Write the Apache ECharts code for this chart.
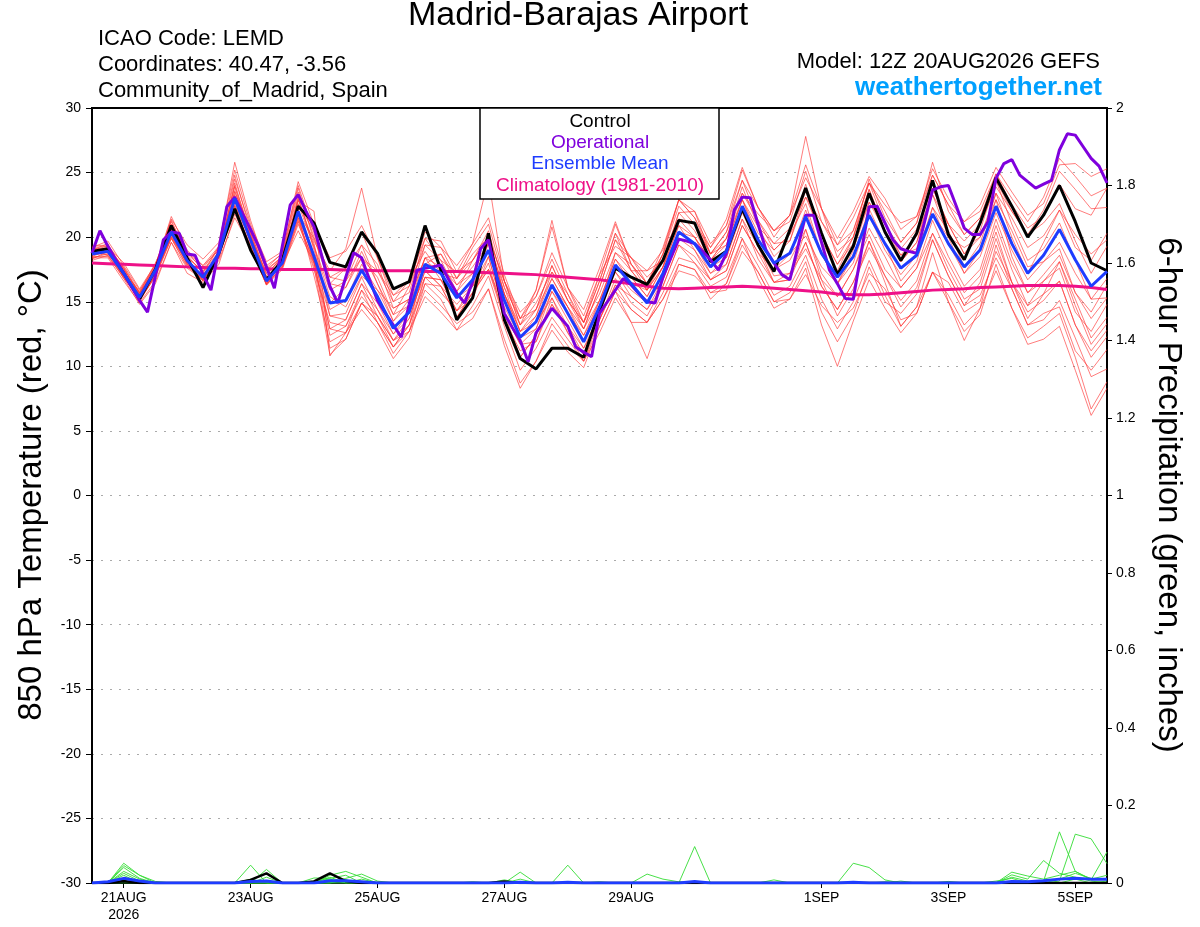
<!DOCTYPE html>
<html>
<head>
<meta charset="utf-8">
<script src="https://cdn.jsdelivr.net/npm/echarts@6/dist/echarts.min.js"></script>
<style>
html,body{margin:0;padding:0;background:#fff;}
#chart{width:1200px;height:927px;}
</style>
</head>
<body>
<div id="chart"></div>
<script>
// ---------- axes / ticks ----------
const tickHours = [12, 60, 108, 156, 204, 276, 324, 372];
const tickLabels = ['21AUG\n2026', '23AUG', '25AUG', '27AUG', '29AUG', '1SEP', '3SEP', '5SEP'];

// ---------- 850 hPa temperature (6-hourly, from 20AUG 12Z) ----------
const control = [18.9,19.1,17.2,15.2,17.5,20.9,18.4,16.1,18.8,22.2,19.0,16.7,18.2,22.4,21.1,18.05,17.7,20.4,18.75,16.0,16.55,20.9,17.45,13.6,15.3,20.3,13.6,10.6,9.8,11.4,11.4,10.7,14.3,17.6,16.9,16.35,18.2,21.3,21.1,18.1,18.9,22.2,19.4,17.35,20.55,23.8,20.3,17.1,19.3,23.4,20.4,18.2,20.3,24.4,20.2,18.25,21.1,24.6,22.4,20.0,21.7,24.0,21.2,18.0,17.4];
const ensMean = [18.7,18.9,17.2,15.35,17.45,20.4,18.2,16.9,18.75,23.0,19.8,16.6,18.0,22.0,18.5,14.9,15.1,17.45,15.4,12.95,14.2,17.9,17.2,15.3,16.7,19.0,15.1,12.25,13.45,16.3,14.1,11.9,14.6,17.85,16.4,14.9,17.2,20.4,19.5,17.7,18.9,22.4,19.8,18.0,18.75,21.6,18.75,16.9,18.5,21.7,19.5,17.6,18.6,21.8,19.5,17.7,19.0,22.4,19.5,17.2,18.6,20.6,18.25,16.2,17.35];
const climatology = [18.0,17.95,17.9,17.85,17.8,17.75,17.7,17.65,17.6,17.6,17.55,17.55,17.5,17.5,17.5,17.5,17.45,17.45,17.4,17.4,17.4,17.35,17.35,17.35,17.3,17.25,17.2,17.15,17.1,17.0,16.9,16.8,16.7,16.55,16.4,16.2,16.05,16.0,16.05,16.1,16.15,16.2,16.15,16.05,15.95,15.85,15.75,15.6,15.55,15.55,15.6,15.7,15.8,15.9,15.95,16.0,16.1,16.15,16.2,16.25,16.25,16.25,16.2,16.1,15.95];
// operational run, 3-hourly
const operational = [18.75,20.5,19.3,18.25,17.2,16.15,15.1,14.2,17.0,19.8,20.4,20.3,18.7,18.6,17.1,15.9,19.1,22.35,23.1,21.8,20.6,19.3,17.7,16.05,19.3,22.5,23.3,22.0,20.8,18.5,16.2,14.9,16.9,18.8,18.4,16.7,15.1,14.1,13.2,12.25,14.8,17.45,17.6,17.7,17.85,16.7,15.65,14.9,16.55,19.1,19.8,17.0,14.1,13.0,12.0,10.35,12.6,13.5,14.5,13.8,13.1,11.5,11.1,10.75,14.1,15.0,15.9,16.8,16.3,15.6,15.0,14.9,16.9,18.4,19.85,19.7,19.5,18.9,18.25,17.45,18.75,22.1,23.1,23.05,21.0,19.0,18.0,17.1,16.7,19.2,21.7,21.7,19.6,17.45,16.4,15.25,15.2,18.8,22.35,22.4,21.1,19.8,19.1,18.9,18.75,21.2,23.65,23.9,24.0,22.4,20.7,20.2,20.2,21.2,24.55,25.7,26.0,24.8,24.3,23.8,24.1,24.4,26.75,28.0,27.9,27.0,26.1,25.5,24.2];

// ensemble members (6-hourly)
const m01 = [19.2,19.7,17.8,15.9,17.7,21.6,19.0,17.8,19.3,25.8,21.3,17.6,18.8,24.3,21.0,18.4,18.9,20.9,18.4,15.5,16.2,20.4,19.2,17.8,19.5,21.5,17.1,13.7,15.4,18.3,15.6,13.4,16.6,20.3,18.4,17.4,19.0,22.9,22.0,19.5,20.9,25.2,22.3,20.5,21.7,25.6,22.2,19.9,22.0,24.7,23.0,20.6,21.6,25.3,23.0,21.2,22.5,25.4,23.5,21.7,22.6,25.6,25.7,24.7,25.3];
const m02 = [18.4,18.4,16.6,14.9,16.6,19.6,17.6,16.7,18.2,21.5,19.3,16.3,17.8,20.5,18.0,12.4,13.1,15.4,13.9,11.5,13.2,16.4,15.2,12.8,14.7,17.0,13.1,9.7,11.4,13.8,12.1,10.4,13.1,15.8,14.4,13.4,15.7,18.4,18.0,16.2,16.9,19.9,17.8,15.5,16.2,18.6,15.2,12.9,15.0,18.2,15.5,13.1,14.6,17.3,15.5,13.2,14.5,17.4,14.5,12.2,13.1,14.1,10.7,6.7,8.8];
const m03 = [18.9,19.2,17.4,15.2,17.6,21.0,18.5,17.3,18.9,24.0,20.3,17.2,18.3,23.0,19.3,15.9,16.6,19.4,16.4,13.5,15.2,18.4,16.7,14.3,16.2,19.5,15.6,13.2,14.4,17.8,15.1,13.4,16.6,20.3,17.4,15.9,17.7,21.9,20.5,18.2,19.9,23.9,20.8,18.5,19.7,23.6,19.7,17.4,20.0,23.7,20.5,18.1,19.6,23.3,20.0,17.2,19.0,22.9,18.5,15.7,16.6,18.1,15.2,12.2,13.8];
const m04 = [18.2,18.6,16.8,14.8,16.4,19.6,17.2,16.5,17.9,21.8,19.2,16.3,17.5,21.0,18.2,11.4,12.1,14.9,13.4,11.5,12.7,16.9,15.7,14.3,15.2,18.5,14.1,10.7,12.4,15.8,14.1,12.4,14.6,18.8,17.9,16.4,18.7,22.4,21.0,19.2,20.9,24.4,22.3,20.5,21.7,24.6,22.2,19.4,20.5,24.2,22.0,19.6,21.1,24.8,22.5,20.2,21.5,24.4,22.0,20.2,22.1,25.1,23.7,22.2,22.3];
const m05 = [18.7,18.7,17.2,15.7,17.4,20.0,18.0,16.9,18.9,22.2,19.4,16.4,18.0,21.5,17.7,10.9,12.1,14.9,13.4,11.0,12.7,15.4,14.2,12.8,13.7,16.0,12.1,8.7,10.4,12.8,11.1,9.9,13.1,15.8,13.4,10.6,14.2,17.9,17.5,15.2,16.4,19.9,16.8,14.5,15.2,17.6,13.2,10.0,13.5,16.7,14.5,12.6,14.1,17.3,15.0,12.7,14.0,17.9,14.5,11.7,12.1,13.1,9.7,6.2,8.3];
const m06 = [19.1,19.1,17.7,15.7,17.9,21.2,18.7,17.6,19.2,24.5,20.8,17.4,18.5,23.5,20.0,16.9,17.6,20.4,17.4,15.0,15.7,19.9,18.2,15.8,18.2,20.5,16.1,12.7,14.4,17.8,15.1,12.9,16.1,19.8,18.4,16.4,19.2,22.9,21.5,19.2,21.4,25.4,22.3,20.0,21.7,27.8,22.2,18.4,20.5,24.2,21.0,19.1,20.6,23.8,21.0,19.7,21.0,23.9,22.0,20.2,21.1,22.6,19.7,17.2,19.3];
const m07 = [18.5,18.5,16.9,15.2,16.9,19.9,17.7,16.8,18.4,22.2,19.0,16.4,17.6,21.2,17.5,13.4,13.1,15.9,14.4,12.0,13.7,17.4,16.2,13.8,15.7,18.0,13.6,11.2,11.9,15.3,13.1,11.4,13.6,16.3,15.4,14.4,16.2,19.4,18.0,16.7,17.4,20.9,18.8,16.5,16.7,19.6,16.2,14.4,16.5,19.7,17.0,14.6,16.1,19.8,17.0,14.7,16.5,20.4,16.5,13.7,15.6,18.1,14.7,11.7,13.3];
const m08 = [19.3,19.4,17.6,15.5,17.7,21.3,18.6,17.2,19.3,24.8,20.4,17.0,18.6,23.8,19.7,17.4,19.1,23.8,18.4,15.0,16.7,19.9,19.7,17.3,19.5,24.5,16.6,13.2,15.9,20.8,16.1,14.4,17.6,21.2,17.9,16.4,18.7,22.9,21.5,18.7,20.4,24.4,21.3,19.0,20.2,24.1,20.2,17.9,20.0,23.7,20.5,18.1,19.6,23.8,21.0,18.7,20.5,24.4,21.0,18.2,19.1,21.1,18.2,15.2,15.3];
const m09 = [18.3,18.9,17.0,15.1,17.1,20.2,17.9,17.1,18.4,22.5,20.1,16.8,17.7,21.5,18.5,12.9,12.6,14.9,13.9,12.0,12.7,15.9,14.7,13.3,14.2,16.0,11.6,8.3,10.4,13.3,11.6,10.4,13.6,16.3,14.4,13.4,15.2,17.9,17.5,15.7,16.4,19.4,17.3,15.0,15.2,17.1,14.7,13.4,14.5,17.2,16.0,13.6,14.1,17.3,16.5,14.2,15.0,18.9,16.5,14.7,15.6,16.6,13.2,10.7,12.3];
const m10 = [19.0,19.5,17.3,15.8,18.0,20.7,18.4,17.4,19.1,23.5,20.6,17.8,18.7,22.5,20.5,16.9,16.6,18.4,16.9,14.0,16.2,19.4,19.2,16.8,18.7,20.0,16.6,14.2,15.4,18.8,16.1,13.9,17.1,19.3,18.4,16.9,18.2,21.4,21.0,18.7,19.4,22.9,20.8,19.5,20.7,23.1,21.2,19.4,21.5,24.2,22.5,21.1,21.6,24.8,22.5,21.2,22.0,24.9,23.0,21.2,23.1,26.1,24.7,23.2,23.8];
const m11 = [18.8,18.8,17.1,15.4,17.0,20.1,18.1,16.6,18.6,22.7,19.6,16.7,18.2,21.8,18.2,13.9,13.6,16.4,14.9,12.5,14.2,16.9,16.7,15.3,16.2,17.5,14.6,12.2,12.9,16.3,14.6,11.9,15.1,17.3,15.9,14.9,16.7,19.9,19.5,17.2,17.9,21.4,19.3,17.0,17.2,19.1,16.7,15.4,17.5,20.2,17.5,16.1,17.6,20.3,18.0,15.7,17.0,20.9,17.5,14.7,16.6,17.6,14.2,12.7,14.8];
const m12 = [18.6,19.2,17.6,15.6,17.8,20.5,18.8,17.8,19.0,23.2,20.0,17.2,18.4,22.8,22.0,10.8,12.6,15.9,13.4,11.5,13.2,17.9,17.7,16.3,17.2,19.0,15.6,12.7,13.4,15.3,12.6,10.9,14.1,17.8,16.9,15.4,17.7,20.4,20.0,18.2,19.9,22.9,20.3,19.0,20.2,22.6,18.7,16.4,19.0,22.7,21.0,18.6,19.1,21.8,20.0,19.2,20.0,22.9,20.5,17.7,18.1,19.1,15.7,14.2,16.3];
const m13 = [19.0,19.0,16.9,15.3,17.5,20.9,18.0,17.1,18.7,24.2,20.1,16.4,17.9,23.2,19.0,14.4,15.1,17.9,15.9,14.5,15.2,19.4,18.2,17.3,18.2,20.0,15.6,12.2,13.9,17.3,15.6,12.9,15.1,18.3,16.4,15.9,18.7,21.4,20.0,17.7,18.4,22.4,19.3,16.5,16.7,20.6,16.7,13.9,16.0,19.7,16.5,13.1,14.6,18.8,15.0,12.0,14.5,19.4,16.0,13.2,14.1,14.6,11.2,9.7,11.3];
const m14 = [18.4,18.7,17.2,15.5,17.2,20.6,18.2,16.7,18.8,23.3,19.5,16.6,18.1,22.2,18.0,14.9,16.1,18.4,17.4,15.5,16.7,18.9,17.2,16.8,19.2,21.0,16.6,13.7,15.9,21.3,16.1,13.4,17.1,21.0,17.9,15.9,17.7,20.9,19.0,16.7,17.4,20.9,18.8,17.5,18.7,20.1,17.7,16.4,18.5,22.2,19.5,16.6,18.1,22.3,20.5,17.7,19.5,23.4,20.0,17.2,19.6,22.1,19.2,18.2,20.3];
const m15 = [18.7,19.1,17.1,15.0,17.1,19.9,17.8,16.6,18.6,22.4,19.8,16.5,18.2,21.7,17.0,11.9,12.6,14.4,12.9,10.6,12.2,16.4,16.2,13.8,15.7,17.5,14.1,11.7,11.9,14.8,12.6,10.4,12.6,15.3,13.4,13.4,15.2,17.4,17.0,15.7,15.9,18.9,17.3,15.0,15.7,18.1,14.2,11.9,14.0,17.7,15.0,14.1,15.6,19.8,17.0,14.7,15.5,18.4,16.0,13.2,13.6,15.1,12.2,9.2,9.8];
const m16 = [19.2,19.3,18.0,16.0,17.9,21.4,19.4,18.3,19.6,25.2,21.0,18.1,18.9,24.0,20.3,16.4,17.6,19.4,17.9,14.5,15.2,18.4,18.7,16.3,17.7,19.5,16.1,13.7,14.4,16.8,14.6,12.9,16.1,19.8,17.4,17.4,18.2,21.9,22.0,18.7,20.4,23.4,21.8,20.5,21.2,25.1,21.2,18.9,20.0,24.5,21.5,19.6,21.1,25.8,22.0,20.2,21.5,24.9,22.5,20.7,21.6,24.1,22.2,21.7,23.8];
const m17 = [18.9,18.6,17.0,15.6,17.3,20.3,18.3,16.8,18.5,23.6,20.2,16.9,18.1,22.6,19.2,15.4,14.6,17.0,15.9,13.5,14.7,18.4,17.7,15.8,17.2,19.5,15.6,12.7,13.9,16.8,14.6,12.4,15.1,18.3,16.9,15.4,17.7,20.9,20.0,18.2,19.4,22.9,19.8,18.0,18.7,22.1,18.7,16.4,18.0,21.7,19.0,17.1,18.6,22.3,19.5,17.2,18.5,21.9,19.0,16.7,18.1,19.6,17.2,15.2,16.8];
const m18 = [18.5,19.0,17.5,15.1,17.0,20.6,17.9,16.7,18.9,23.9,19.9,16.8,17.9,22.9,19.5,13.9,14.1,16.9,14.4,12.5,13.7,17.4,16.2,14.8,16.2,18.5,14.1,11.7,12.9,15.8,13.6,11.4,14.1,17.3,15.4,14.4,16.7,19.9,19.0,17.2,18.4,21.9,19.3,17.5,18.2,20.6,17.2,15.4,17.5,20.7,18.5,16.1,17.6,21.3,18.5,16.2,17.5,21.4,18.0,15.7,17.1,18.6,15.7,13.7,15.3];
const m19 = [19.0,19.3,17.5,15.7,17.6,21.0,18.9,17.4,18.4,22.8,20.5,17.5,18.5,21.8,19.9,16.4,16.1,18.9,16.4,14.0,14.7,17.9,18.7,16.8,18.2,20.0,16.6,13.2,14.9,17.3,15.1,13.4,15.6,18.8,17.4,15.9,18.2,21.4,21.0,18.7,19.9,23.4,21.3,19.5,19.7,23.1,20.2,17.9,19.5,22.7,20.5,18.6,20.1,23.3,21.0,18.7,20.0,23.4,21.5,19.2,20.1,22.1,20.2,18.7,19.8];
const m20 = [18.6,18.9,16.8,15.3,17.2,20.0,18.0,17.0,18.6,22.4,19.2,16.3,17.7,21.3,18.0,12.9,13.6,16.4,13.9,12.0,13.2,16.9,16.7,14.3,15.7,17.5,13.6,10.7,12.4,14.8,13.1,10.9,13.6,16.8,14.9,13.9,16.2,19.4,18.5,16.7,17.9,21.4,18.3,16.5,17.2,19.6,16.2,14.4,16.5,19.2,17.0,15.1,16.6,20.3,17.5,15.2,16.0,19.9,16.5,14.2,15.1,16.6,13.2,11.2,12.8];
const members = [m01,m02,m03,m04,m05,m06,m07,m08,m09,m10,m11,m12,m13,m14,m15,m16,m17,m18,m19,m20];

// ---------- 6-hour precipitation (inches) ----------
const pControl = [0,0,0.005,0,0,0,0,0,0,0,0.008,0.025,0,0,0.004,0.025,0.005,0,0,0,0,0,0,0,0,0,0.004,0,0,0,0,0,0,0,0,0,0,0,0,0,0,0,0,0,0,0,0,0,0,0,0,0,0,0,0,0,0,0,0,0,0,0,0,0,0];
const pMean = [0,0.003,0.012,0.005,0,0,0,0,0,0,0.004,0.005,0,0,0,0.006,0.006,0.003,0,0,0,0,0,0,0,0,0,0.002,0,0,0.002,0,0,0,0,0,0,0,0.004,0,0,0,0,0,0,0,0,0,0.002,0,0,0,0,0,0,0,0,0,0.004,0.003,0.006,0.01,0.012,0.01,0.01];
const g1 = [0,0,0.051,0.02,0.004,0,0,0,0,0,0.046,0,0,0,0,0,0,0,0,0,0,0,0,0,0,0,0,0,0,0,0.046,0,0,0,0,0,0,0,0,0,0,0,0,0,0,0,0,0,0,0,0,0,0,0,0,0,0,0,0,0,0.005,0.132,0.03,0.01,0.02];
const g2 = [0,0,0.04,0.012,0,0,0,0,0,0,0,0.035,0,0,0,0,0.012,0.023,0.005,0,0,0,0,0,0,0,0,0,0,0,0,0,0,0,0,0,0,0,0,0,0,0,0,0,0,0,0,0,0.051,0.04,0.008,0,0,0,0,0,0,0,0,0,0,0.005,0.126,0.114,0.05];
const g3 = [0,0,0.03,0.01,0,0,0,0,0,0,0,0,0,0,0,0.02,0.03,0.015,0,0,0,0,0,0,0,0,0,0.028,0,0,0,0,0,0,0,0.023,0.01,0.003,0,0,0,0,0,0,0,0,0,0,0,0,0,0,0,0,0,0,0,0,0.028,0.018,0.01,0.02,0.03,0.008,0.08];
const g4 = [0,0,0.02,0,0,0,0,0,0,0,0,0,0,0,0.013,0.012,0.02,0,0,0,0,0,0,0,0,0,0.008,0,0,0,0,0,0,0,0,0,0,0,0.094,0,0,0,0,0.008,0,0,0,0,0,0,0,0,0,0,0,0,0,0,0.021,0.01,0.058,0.025,0.015,0.005,0];
const g5 = [0,0,0.012,0,0,0,0,0,0,0,0.01,0,0,0,0.005,0.01,0,0,0,0,0,0,0,0,0,0,0,0,0,0,0,0,0,0,0,0,0,0,0,0,0,0,0,0,0,0,0,0,0,0,0,0.005,0,0,0.004,0,0,0,0.015,0.005,0,0.01,0.025,0.012,0.01];
const g6 = [0,0,0.045,0.02,0,0,0,0,0,0,0,0,0,0,0,0,0.008,0,0,0,0,0,0,0,0,0,0,0.01,0,0,0,0,0,0,0,0,0,0,0,0,0,0,0,0,0,0,0,0,0,0,0,0,0,0,0,0,0,0.005,0.012,0,0,0,0,0,0];
const g7 = [0,0,0,0,0,0,0,0,0,0,0,0.015,0,0,0,0,0,0.01,0,0,0,0,0,0,0,0,0,0,0,0,0,0,0.003,0,0,0,0,0,0,0,0,0,0,0,0,0,0,0,0,0,0,0,0,0,0,0,0,0,0,0,0,0,0.01,0,0.005];
const g8 = [0,0,0.025,0.005,0,0,0,0,0,0,0,0,0,0,0,0.015,0,0,0,0,0,0,0,0,0.003,0,0,0,0,0,0,0,0,0,0,0,0,0,0,0,0,0,0,0,0,0,0,0,0,0,0.003,0,0,0,0,0,0,0,0,0,0,0,0,0,0];
const greens = [g1,g2,g3,g4,g5,g6,g7,g8];

// ---------- chart ----------
const six = arr => arr.map((v, i) => [i * 6, v]);
const three = arr => arr.map((v, i) => [i * 3, v]);

const series = [];
members.forEach((m, k) => series.push({
  name: 'member' + (k + 1), type: 'line', data: six(m), yAxisIndex: 0,
  symbol: 'none', silent: true, z: 2,
  lineStyle: { color: 'rgba(255,50,50,0.8)', width: 0.8 }
}));
greens.forEach((g, k) => series.push({
  name: 'precip' + (k + 1), type: 'line', data: six(g), yAxisIndex: 1,
  symbol: 'none', silent: true, z: 3,
  lineStyle: { color: '#33dd33', width: 0.9 }
}));
series.push({ name: 'Control precip', type: 'line', data: six(pControl), yAxisIndex: 1, symbol: 'none', z: 4, lineStyle: { color: '#000', width: 2.5 } });
series.push({ name: 'Mean precip', type: 'line', data: six(pMean), yAxisIndex: 1, symbol: 'none', z: 5, lineStyle: { color: '#1e3cff', width: 3 } });
series.push({ name: 'Climatology (1981-2010)', type: 'line', data: six(climatology), yAxisIndex: 0, symbol: 'none', z: 6, lineStyle: { color: '#ee1188', width: 3 } });
series.push({ name: 'Control', type: 'line', data: six(control), yAxisIndex: 0, symbol: 'none', z: 7, lineStyle: { color: '#000', width: 3 } });
series.push({ name: 'Operational', type: 'line', data: three(operational), yAxisIndex: 0, symbol: 'none', z: 8, lineStyle: { color: '#7f00dd', width: 3 } });
series.push({ name: 'Ensemble Mean', type: 'line', data: six(ensMean), yAxisIndex: 0, symbol: 'none', z: 9, lineStyle: { color: '#1e3cff', width: 3 } });

const font = '"Liberation Sans", Arial, sans-serif';
const chart = echarts.init(document.getElementById('chart'));
chart.setOption({
  animation: false,
  backgroundColor: '#fff',
  textStyle: { fontFamily: font },
  grid: { left: 92, right: 93, top: 108, bottom: 44, show: true, borderColor: '#000', borderWidth: 2, backgroundColor: 'transparent' },
  xAxis: {
    type: 'value', min: 0, max: 384,
    axisLine: { show: true, onZero: false, lineStyle: { color: '#000', width: 2 } },
    axisTick: { show: true, customValues: tickHours, length: 5, lineStyle: { color: '#000', width: 1 } },
    axisLabel: { customValues: tickHours, formatter: v => tickLabels[tickHours.indexOf(v)] || '', color: '#000', fontSize: 14, lineHeight: 17, margin: 7, fontFamily: font },
    splitLine: { show: false }
  },
  yAxis: [
    {
      type: 'value', min: -30, max: 30, interval: 5, position: 'left',
      axisLine: { show: true, onZero: false, lineStyle: { color: '#000', width: 2 } },
      axisTick: { show: true, length: 6, lineStyle: { color: '#000' } },
      axisLabel: { color: '#000', fontSize: 14, margin: 11, fontFamily: font },
      splitLine: { show: true, showMinLine: false, showMaxLine: false, lineStyle: { color: '#aaaaaa', type: [2, 7], width: 1 } }
    },
    {
      type: 'value', min: 0, max: 2, interval: 0.2, position: 'right',
      axisLine: { show: true, onZero: false, lineStyle: { color: '#000', width: 2 } },
      axisTick: { show: true, length: 5, lineStyle: { color: '#000' } },
      axisLabel: { color: '#000', fontSize: 14, margin: 9, fontFamily: font, formatter: v => String(parseFloat(v.toFixed(1))) },
      splitLine: { show: false }
    }
  ],
  graphic: [
    { type: 'text', left: 408, top: -1, style: { text: 'Madrid-Barajas Airport', font: '34px ' + font, fill: '#000' } },
    { type: 'text', left: 98, top: 28, style: { text: 'ICAO Code: LEMD', font: '22px ' + font, fill: '#000' } },
    { type: 'text', left: 98, top: 54, style: { text: 'Coordinates: 40.47, -3.56', font: '22px ' + font, fill: '#000' } },
    { type: 'text', left: 98, top: 80, style: { text: 'Community_of_Madrid, Spain', font: '22px ' + font, fill: '#000' } },
    { type: 'text', right: 100, top: 51, style: { text: 'Model: 12Z 20AUG2026 GEFS', font: '22px ' + font, fill: '#000' } },
    { type: 'text', right: 98, top: 75, style: { text: 'weathertogether.net', font: 'bold 26px ' + font, fill: '#00a0ff' } },
    { type: 'text', x: 32, y: 495, rotation: Math.PI / 2, style: { text: '850 hPa Temperature (red, °C)', font: '33px ' + font, fill: '#000', textAlign: 'center', textVerticalAlign: 'middle' } },
    { type: 'text', x: 1168, y: 495, rotation: -Math.PI / 2, style: { text: '6-hour Precipitation (green, inches)', font: '33px ' + font, fill: '#000', textAlign: 'center', textVerticalAlign: 'middle' } },
    { type: 'rect', shape: { x: 480, y: 108, width: 239, height: 91 }, style: { fill: '#fff', stroke: '#000', lineWidth: 1.5 }, z: 100 },
    { type: 'text', x: 600, y: 122, z: 101, style: { text: 'Control', font: '19px ' + font, fill: '#000', textAlign: 'center', textVerticalAlign: 'middle' } },
    { type: 'text', x: 600, y: 143, z: 101, style: { text: 'Operational', font: '19px ' + font, fill: '#7f00dd', textAlign: 'center', textVerticalAlign: 'middle' } },
    { type: 'text', x: 600, y: 164, z: 101, style: { text: 'Ensemble Mean', font: '19px ' + font, fill: '#1e3cff', textAlign: 'center', textVerticalAlign: 'middle' } },
    { type: 'text', x: 600, y: 186, z: 101, style: { text: 'Climatology (1981-2010)', font: '19px ' + font, fill: '#ee1188', textAlign: 'center', textVerticalAlign: 'middle' } }
  ],
  series: series
});
</script>
</body>
</html>
